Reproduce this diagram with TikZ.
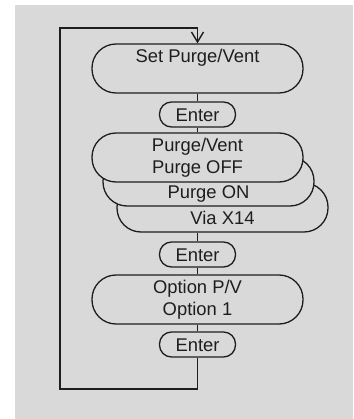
\documentclass[tikz,border=0pt]{standalone}
\usepackage{fontspec}
\setmainfont{Liberation Sans}
\usetikzlibrary{arrows.meta}
\definecolor{panelgray}{RGB}{217,217,217}
\definecolor{inkgray}{RGB}{30,30,30}

\begin{document}
\begin{tikzpicture}[x=1pt, y=-1pt, line width=1.3pt, color=inkgray,
  every node/.style={inner sep=0pt, font=\fontsize{18.4}{22}\selectfont},
  menu/.style={draw, fill=panelgray, rounded corners=24pt, minimum width=211pt, minimum height=49pt, align=center},
  key/.style={draw, fill=panelgray, rounded corners=12pt, minimum width=76pt, minimum height=25pt, text height=13.2pt, text depth=0pt},
  txt/.style={anchor=base}]
  \useasboundingbox (0,0) rectangle (353,419);
  \fill[panelgray] (15,5) rectangle (353,419);
  % menu screens and keys
  \node[menu] (setpv) at (197.5,68.5) {};
  \node[txt] (setpvtxt) at (197.5,62.5) {Set Purge/Vent};
  \node[key] (enter1) at (197.5,114.5) {Enter};
  \node[menu] (via) at (222.5,207.5) {};
  \node[txt] (viatxt) at (222.5,224) {Via X14};
  \node[menu] (purgeon) at (208.5,181.5) {};
  \node[txt] (purgeontxt) at (208.5,198.3) {Purge ON};
  \node[menu] (purgeoff) at (197.5,157.5) {Purge/Vent\\Purge OFF};
  \node[key] (enter2) at (197.5,254.5) {Enter};
  \node[menu] (option) at (197.5,299.5) {Option P/V\\Option 1};
  \node[key] (enter3) at (197.5,344.5) {Enter};
  % connectors
  \draw (setpv.south) -- (enter1.north);
  \draw (enter1.south) -- (purgeoff.north);
  \draw (enter2.north) -- (enter2.north |- via.south);
  \draw (enter2.south) -- (option.north);
  \draw (option.south) -- (enter3.north);
  % loop back
  \coordinate (loopbl) at (60,389);
  \coordinate (looptl) at (60,28);
  \draw[line width=1.8pt, -{Straight Barb[length=10pt, width=12pt, line width=1.4pt]}] (enter3.south) |- (loopbl) -- (looptl) -| (setpv.north);
\end{tikzpicture}
\end{document}
